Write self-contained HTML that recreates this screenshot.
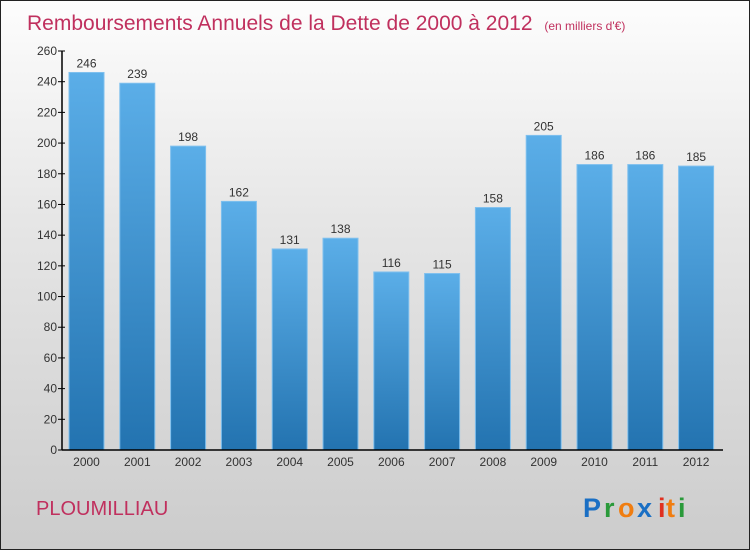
<!DOCTYPE html>
<html><head><meta charset="utf-8"><style>
html,body{margin:0;padding:0}
body{width:750px;height:550px;overflow:hidden;font-family:"Liberation Sans",sans-serif}
#wrap{position:relative;width:748px;height:548px;border:1px solid #222;background:linear-gradient(#fdfdfd,#e6e6e6 40%,#cccccc);}
</style></head><body>
<div id="wrap">
<svg id="chart" width="748" height="548">
<defs><linearGradient id="bg" x1="0" y1="0" x2="0" y2="1"><stop offset="0" stop-color="#5baee8"/><stop offset="1" stop-color="#2373b0"/></linearGradient></defs>
<text x="26" y="29" font-size="21" fill="#c0305e">Remboursements Annuels de la Dette de 2000 à 2012 <tspan font-size="12" dx="6">(en milliers d'€)</tspan></text>
<text x="35" y="514" font-size="20" fill="#c0305e">PLOUMILLIAU</text>
<g font-size="27" font-weight="bold">
<text x="582" y="516" fill="#1a6fc4">P</text><text x="603" y="516" fill="#2a9a3a">r</text><text x="617" y="516" fill="#f07d10">o</text><text x="636" y="516" fill="#1a6fc4">x</text><text x="657" y="516" fill="#e03020">i</text><text x="665" y="516" fill="#f07d10">t</text><text x="677" y="516" fill="#2a9a3a">i</text></g>
<g id="plot"></g>
</svg></div>
<script>
const categories=["2000","2001","2002","2003","2004","2005","2006","2007","2008","2009","2010","2011","2012"];
const values=[246,239,198,162,131,138,116,115,158,205,186,186,185];
const ticks=[0,20,40,60,80,100,120,140,160,180,200,220,240,260];
const X0=61,Y0=449,SC=399/260,PITCH=50.8,BW=35,OFF=6;
const y=v=>Y0-v*SC, x=i=>X0+1+i*PITCH+OFF;
const ns="http://www.w3.org/2000/svg",g=document.getElementById("plot");
function mk(t,a){const e=document.createElementNS(ns,t);for(const k in a)e.setAttribute(k,a[k]);g.appendChild(e);return e;}
values.forEach((v,i)=>{
 const r=mk("rect",{x:x(i),y:y(v),width:BW,height:Y0-y(v),fill:"url(#bg)",stroke:"#7fc0ee","stroke-width":1});
 
 
 const t=mk("text",{x:x(i)+BW/2,y:y(v)-5,"font-size":12,fill:"#333","text-anchor":"middle"});t.textContent=v;
 
 
 const c=mk("text",{x:x(i)+BW/2,y:Y0+16,"font-size":12,fill:"#333","text-anchor":"middle"});c.textContent=categories[i];
 
 
});
ticks.forEach(tv=>{
 const l=mk("line",{x1:X0-4,x2:X0+3,y1:y(tv),y2:y(tv),stroke:"#000"});
 
 
 const t=mk("text",{x:X0-5,y:y(tv)+4,"font-size":12,fill:"#333","text-anchor":"end"});t.textContent=tv;
 
 
});
const ya=mk("line",{x1:X0,x2:X0,y1:y(260),y2:Y0,stroke:"#000","stroke-width":1.5});


const xa=mk("line",{x1:X0,x2:722,y1:Y0,y2:Y0,stroke:"#000","stroke-width":1.5});


</script>
</body></html>
